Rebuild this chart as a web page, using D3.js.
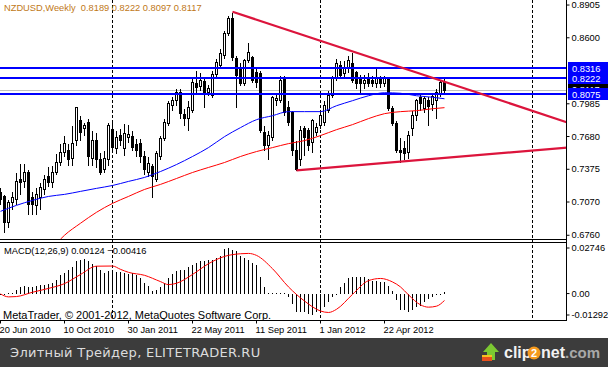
<!DOCTYPE html>
<html>
<head>
<meta charset="utf-8">
<script src="https://cdn.jsdelivr.net/npm/d3@7"></script>
<style>
  html, body { margin: 0; padding: 0; background: #ffffff; }
  svg { display: block; }
  text { font-family: "Liberation Sans", Arial, sans-serif; }
</style>
</head>
<body>
<div id="chart"></div>
<script>
// NZDUSD weekly, bar 0 = week of 20 Jun 2010
const open = [
  .7159,.7122,.6881,.7067,.7094,.7280,.7262,.7345,.7113,.7039,
  .7113,.7187,.7308,.7252,.7354,.7447,.7540,.7559,.7484,.7652,
  .7837,.7763,.7819,.7484,.7652,.7466,.7373,.7466,.7754,.7577,
  .7698,.7577,.7679,.7689,.7614,.7624,.7494,.7354,.7401,.7280,
  .7494,.7670,.7809,.7976,.8023,.8097,.7893,.7856,.7930,.8181,
  .8153,.8199,.8097,.8069,.8264,.8348,.8441,.8645,.8784,.8413,
  .8329,.8181,.8394,.8422,.8283,.8274,.7726,.7605,.7679,.8023,
  .8023,.8227,.7958,.7912,.7559,.7466,.7763,.7744,.7633,.7726,
  .7791,.7819,.7930,.8069,.8227,.8348,.8274,.8329,.8366,.8283,
  .8227,.8181,.8237,.8209,.8181,.8227,.8181,.8218,.7949,.7809,
  .7559,.7577,.7540,.7763,.7884,.8051,.7949,.8023,.7986,.8023,
  .8088,.8189];
const high = [
  .7206,.7141,.7094,.7169,.7354,.7438,.7438,.7373,.7169,.7206,
  .7252,.7327,.7401,.7419,.7531,.7624,.7698,.7624,.7791,.7967,
  .7884,.7819,.7856,.7744,.7726,.7540,.7559,.7819,.7819,.7744,
  .7763,.7809,.7800,.7744,.7670,.7670,.7559,.7494,.7438,.7559,
  .7698,.7856,.8023,.8060,.8134,.8134,.7949,.8023,.8227,.8301,
  .8283,.8227,.8171,.8301,.8413,.8506,.8673,.8812,.8843,.8441,
  .8376,.8413,.8562,.8441,.8320,.8301,.7791,.7744,.8069,.8088,
  .8255,.8255,.8023,.7930,.7652,.7791,.7791,.7772,.7856,.7819,
  .7930,.8023,.8116,.8255,.8413,.8394,.8394,.8441,.8469,.8301,
  .8264,.8264,.8283,.8255,.8320,.8255,.8255,.8237,.7976,.7837,
  .7679,.7652,.7744,.7930,.8041,.8088,.8069,.8060,.8079,.8134,
  .8209,.8222];
const low = [
  .7048,.6788,.6834,.7002,.7048,.7141,.7206,.6955,.6955,.6955,
  .7002,.7141,.7215,.7206,.7327,.7419,.7503,.7419,.7419,.7605,
  .7652,.7698,.7419,.7419,.7392,.7327,.7354,.7419,.7559,.7531,
  .7605,.7512,.7633,.7559,.7494,.7447,.7327,.7308,.7113,.7262,
  .7466,.7652,.7791,.7930,.7976,.7856,.7791,.7744,.7912,.8088,
  .8116,.7958,.8069,.8051,.8237,.8329,.8413,.8626,.8394,.7958,
  .8162,.8162,.8376,.8190,.8144,.7726,.7559,.7466,.7652,.7976,
  .8004,.7884,.7791,.7512,.7364,.7419,.7512,.7559,.7540,.7698,
  .7763,.7791,.7912,.8051,.8209,.8227,.8227,.8283,.8190,.8134,
  .8088,.8134,.8153,.8153,.8144,.8144,.8153,.7930,.7791,.7540,
  .7447,.7466,.7484,.7698,.7837,.7930,.7912,.7791,.7930,.7856,
  .8060,.8097];
const close = [
  .7094,.6881,.7067,.7113,.7262,.7252,.7345,.7048,.7048,.7141,
  .7206,.7280,.7252,.7354,.7447,.7540,.7624,.7466,.7624,.7958,
  .7726,.7791,.7494,.7652,.7466,.7354,.7484,.7791,.7587,.7679,
  .7652,.7717,.7707,.7587,.7559,.7494,.7373,.7429,.7308,.7531,
  .7670,.7819,.7995,.8023,.8097,.7902,.7856,.7958,.8190,.8144,
  .8209,.8088,.8134,.8264,.8376,.8459,.8645,.8784,.8422,.8255,
  .8181,.8394,.8469,.8209,.8190,.7744,.7605,.7698,.8051,.8041,
  .8209,.7912,.7819,.7559,.7373,.7744,.7679,.7605,.7837,.7772,
  .7884,.7976,.8069,.8237,.8366,.8255,.8329,.8394,.8209,.8181,
  .8181,.8209,.8181,.8181,.8227,.8181,.8227,.7949,.7809,.7559,
  .7540,.7531,.7698,.7884,.8023,.7995,.8041,.7967,.8060,.8097,
  .8190,.8117];

// moving averages, read every few bars
const blueMaBars = [0,4,8,12,16,20,24,28,32,36,40,44,48,52,56,60,64,68,72,76,80,84,88,92,96,100,104,108,111];
const blueMa = [.6983,.7039,.7085,.7122,.7141,.7169,.7197,.7224,.7262,.7299,.7354,.7419,.7494,.7577,.7679,.7763,.7837,.7874,.7912,.7912,.7912,.7967,.8014,.8060,.8088,.8083,.8060,.8046,.8032];
const redMaBars = [14,16,20,24,28,32,36,40,44,48,52,56,60,64,68,72,76,80,84,88,92,96,100,104,108,111];
const redMa = [.6686,.6760,.6872,.6974,.7057,.7122,.7187,.7234,.7289,.7345,.7392,.7438,.7494,.7540,.7577,.7614,.7642,.7689,.7744,.7791,.7847,.7893,.7912,.7921,.7939,.7949];

// MACD(12,26,9) main value per bar
const macd = [
  -.0006,-.0006,.0003,.0006,.0020,.0041,.0045,.0041,.0041,.0045,
  .0051,.0051,.0057,.0061,.0081,.0112,.0122,.0143,.0163,.0194,
  .0204,.0208,.0194,.0179,.0167,.0143,.0122,.0133,.0133,.0127,
  .0127,.0122,.0118,.0122,.0112,.0092,.0065,.0045,.0017,.0024,
  .0041,.0061,.0092,.0118,.0133,.0143,.0143,.0163,.0173,.0184,
  .0194,.0194,.0200,.0204,.0214,.0228,.0269,.02746,.0261,.0255,
  .0225,.0214,.0200,.0184,.0173,.0102,.0037,.0001,.0000,.0001,
  .0001,.0001,-.0020,-.0061,-.0112,-.0112,-.0112,-.0125,-.01292,-.0112,
  -.0102,-.0081,-.0051,-.0020,-.0004,.0041,.0065,.0092,.0098,.0098,
  .0098,.0098,.0086,.0078,.0078,.0072,.0072,.0045,.0017,-.0040,
  -.0102,-.0102,-.0112,-.0102,-.0081,-.0072,-.0051,-.0031,-.0020,-.0010,
  -.0002,.00124];
const signalBars = [0,2,4,8,12,16,20,24,28,30,32,36,40,42,44,48,52,56,60,62,64,68,72,76,80,82,84,88,92,95,98,100,102,105,107,109,111];
const signal = [-.0002,-.0020,-.0018,.0008,.0031,.0060,.0115,.0165,.0166,.0146,.0128,.0110,.0072,.0054,.0062,.0115,.0180,.0224,.0240,.0242,.0230,.0150,.0040,-.0045,-.0105,-.0114,-.0095,-.0005,.0078,.0091,.0070,.0040,-.0008,-.0068,-.0082,-.0076,-.00416];

// chart objects
const levelLines = [0.8316, 0.8222, 0.8075];
const bid = 0.8117;
const trendUpper = [[58, 0.8843], [111, 0.8190]];
const trendLower = [[74, 0.7364], [100, 0.7446]];
const yearSeparators = [28, 80, 133];

// axis labels
const priceTicks = [0.8905, 0.8600, 0.7985, 0.7680, 0.7375, 0.7070, 0.6760];
const macdTicks = [0.02746, 0, -0.01292];
const macdTickLabels = ["0.02746", "0.00", "-0.01292"];
const dateBars = [0, 16, 32, 48, 64, 80, 96];
const dateLabels = ["20 Jun 2010", "10 Oct 2010", "30 Jan 2011", "22 May 2011", "11 Sep 2011", "1 Jan 2012", "22 Apr 2012"];

const W = 608, H = 367;
const plotRight = 567;
const mainBottom = 239, macdTop = 242, macdBottom = 320;
const n = close.length;
const fmt4 = d3.format(".4f"), fmt5 = d3.format(".5f");

const svg = d3.select("#chart").append("svg")
  .attr("width", W)
  .attr("height", H);

svg.append("rect").attr("width", W).attr("height", H).attr("fill", "#ffffff");

// 4 px per weekly bar
const x = d3.scaleLinear().domain([0, 1]).range([0.5, 4.5]);
const y = d3.scaleLinear().domain([0.6716, 0.8952]).range([240, 0]);
const yM = d3.scaleLinear().domain([-0.01292, 0.02746]).range([315, 248]);
const px = v => Math.round(v) + 0.5;

const defs = svg.append("defs");
defs.append("clipPath").attr("id", "clipMain")
  .append("rect").attr("x", 0).attr("y", 0).attr("width", plotRight).attr("height", mainBottom);
defs.append("clipPath").attr("id", "clipMacd")
  .append("rect").attr("x", 0).attr("y", macdTop + 1).attr("width", plotRight).attr("height", macdBottom - macdTop - 1);

// year separators
svg.append("g").selectAll("line")
  .data(yearSeparators)
  .join("line")
  .attr("x1", d => x(d)).attr("x2", d => x(d))
  .attr("y1", 0).attr("y2", macdBottom)
  .attr("stroke", "#000")
  .attr("stroke-dasharray", "3,2")
  .attr("shape-rendering", "crispEdges");

const main = svg.append("g").attr("clip-path", "url(#clipMain)");

// bid line
main.append("line")
  .attr("x1", 0).attr("x2", plotRight)
  .attr("y1", px(y(bid))).attr("y2", px(y(bid)))
  .attr("stroke", "#c0c0c0")
  .attr("shape-rendering", "crispEdges");

const bars = d3.range(n);

// wicks
main.append("g").selectAll("line")
  .data(bars)
  .join("line")
  .attr("x1", i => x(i)).attr("x2", i => x(i))
  .attr("y1", i => px(y(high[i]))).attr("y2", i => px(y(low[i])))
  .attr("stroke", "#000")
  .attr("shape-rendering", "crispEdges");

// bodies
main.append("g").selectAll("rect")
  .data(bars)
  .join("rect")
  .attr("x", i => x(i) - 1)
  .attr("width", 2)
  .attr("y", i => px(y(Math.max(open[i], close[i]))))
  .attr("height", i => Math.max(1, px(y(Math.min(open[i], close[i]))) - px(y(Math.max(open[i], close[i])))))
  .attr("fill", i => close[i] >= open[i] ? "#ffffff" : "#000000")
  .attr("stroke", "#000")
  .attr("shape-rendering", "crispEdges");

// moving averages
const maLine = d3.line().x(d => x(d[0])).y(d => y(d[1])).curve(d3.curveMonotoneX);
main.append("path")
  .attr("d", maLine(d3.zip(redMaBars, redMa)))
  .attr("fill", "none").attr("stroke", "#ff0000").attr("stroke-width", 1);
main.append("path")
  .attr("d", maLine(d3.zip(blueMaBars, blueMa)))
  .attr("fill", "none").attr("stroke", "#0000ff").attr("stroke-width", 1);

// horizontal levels
main.append("g").selectAll("line")
  .data(levelLines)
  .join("line")
  .attr("x1", 0).attr("x2", plotRight)
  .attr("y1", d => Math.round(y(d))).attr("y2", d => Math.round(y(d)))
  .attr("stroke", "#0000ff")
  .attr("stroke-width", 2)
  .attr("shape-rendering", "crispEdges");

// trend lines, extended to the right edge
const lastBar = x.invert(plotRight + 2);
[trendUpper, trendLower].forEach(t => {
  const slope = (t[1][1] - t[0][1]) / (t[1][0] - t[0][0]);
  const endPrice = t[0][1] + slope * (lastBar - t[0][0]);
  main.append("line")
    .attr("x1", x(t[0][0])).attr("y1", y(t[0][1]))
    .attr("x2", x(lastBar)).attr("y2", y(endPrice))
    .attr("stroke", "#dc143c")
    .attr("stroke-width", 2.2);
});

// MACD histogram
const macdG = svg.append("g").attr("clip-path", "url(#clipMacd)");
const zeroY = Math.round(yM(0));
macdG.append("g").selectAll("line")
  .data(bars)
  .join("line")
  .attr("x1", i => x(i)).attr("x2", i => x(i))
  .attr("y1", zeroY)
  .attr("y2", i => {
    const v = Math.round(yM(macd[i]));
    if (v === zeroY) return macd[i] >= 0 ? zeroY - 1 : zeroY + 1;
    return v;
  })
  .attr("stroke", "#000")
  .attr("shape-rendering", "crispEdges");

macdG.append("path")
  .attr("d", d3.line().x(d => x(d[0])).y(d => yM(d[1])).curve(d3.curveMonotoneX)(d3.zip(signalBars, signal)))
  .attr("fill", "none").attr("stroke", "#ff0000").attr("stroke-width", 1);

// window borders
const borders = svg.append("g").attr("stroke", "#000").attr("shape-rendering", "crispEdges");
borders.append("line").attr("x1", plotRight - 0.5).attr("x2", plotRight - 0.5).attr("y1", 0).attr("y2", macdBottom + 0.5);
[mainBottom, macdTop, macdBottom].forEach(v => {
  borders.append("line").attr("x1", 0).attr("x2", plotRight).attr("y1", v + 0.5).attr("y2", v + 0.5);
});

// price axis
const priceAxis = svg.append("g")
  .attr("transform", `translate(${plotRight - 0.5},0)`)
  .call(d3.axisRight(y).tickValues(priceTicks).tickFormat(fmt4).tickSize(3).offset(0));
priceAxis.select(".domain").remove();
priceAxis.selectAll("text").attr("x", 5).style("font-size", "9.3px").attr("fill", "#000").style("font-family", "'Liberation Sans', Arial, sans-serif");

// label boxes: bid label only shows in the gap between the level boxes
const boxH = 12;
const levelY = levelLines.map(v => Math.round(y(v)));
const gapTop = Math.min(...levelY.filter(v => v < y(bid))) + boxH / 2;
const gapBottom = Math.max(...levelY.filter(v => v > y(bid))) - boxH / 2;
defs.append("clipPath").attr("id", "clipBid")
  .append("rect").attr("x", plotRight).attr("y", gapTop).attr("width", W - plotRight).attr("height", Math.max(0, gapBottom - gapTop));

const boxes = svg.append("g");
const bidBox = boxes.append("g").attr("clip-path", "url(#clipBid)");
bidBox.append("rect")
  .attr("x", plotRight + 1).attr("y", Math.round(y(bid)) - boxH / 2)
  .attr("width", W - plotRight).attr("height", boxH)
  .attr("fill", "#000000");
bidBox.append("text")
  .attr("x", plotRight + 5).attr("y", y(bid) + 3.5)
  .attr("fill", "#ffffff")
  .style("font-size", "9.3px")
  .text(fmt4(bid));

levelLines.forEach(v => {
  const cy = y(v);
  boxes.append("rect")
    .attr("x", plotRight + 1).attr("y", Math.round(cy) - boxH / 2)
    .attr("width", W - plotRight).attr("height", boxH)
    .attr("fill", "#0000ff");
  boxes.append("text")
    .attr("x", plotRight + 5).attr("y", cy + 3.5)
    .attr("fill", "#ffffff")
    .style("font-size", "9.3px")
    .text(fmt4(v));
});

// MACD axis
const macdAxis = svg.append("g")
  .attr("transform", `translate(${plotRight - 0.5},0)`)
  .call(d3.axisRight(yM).tickValues(macdTicks).tickFormat((d, i) => macdTickLabels[i]).tickSize(3).offset(0));
macdAxis.select(".domain").remove();
macdAxis.selectAll("text").attr("x", 5).style("font-size", "9.3px").attr("fill", "#000").style("font-family", "'Liberation Sans', Arial, sans-serif");

// time axis
const timeAxis = svg.append("g")
  .attr("transform", `translate(0,${macdBottom + 0.5})`)
  .call(d3.axisBottom(x).tickValues(dateBars).tickFormat((d, i) => dateLabels[i]).tickSize(3).offset(0));
timeAxis.select(".domain").remove();
timeAxis.selectAll("text")
  .attr("x", -1).attr("y", 6)
  .attr("text-anchor", "start")
  .attr("fill", "#000")
  .style("font-size", "9.3px")
  .style("font-family", "'Liberation Sans', Arial, sans-serif");

// titles
svg.append("text")
  .attr("x", 4).attr("y", 11)
  .attr("fill", "#c07818")
  .style("font-size", "9.3px")
  .style("white-space", "pre")
  .text(`NZDUSD,Weekly  ${fmt4(open[n - 1])} ${fmt4(high[n - 1])} ${fmt4(low[n - 1])} ${fmt4(close[n - 1])}`);

svg.append("text")
  .attr("x", 4).attr("y", 254)
  .attr("fill", "#000")
  .style("font-size", "9.3px")
  .text(`MACD(12,26,9) ${fmt5(macd[n - 1])} ${fmt5(signal[signal.length - 1])}`);

svg.append("text")
  .attr("x", 3).attr("y", 319)
  .attr("fill", "#000")
  .style("font-size", "11px")
  .text("MetaTrader, © 2001-2012, MetaQuotes Software Corp.");

// footer bar
const foot = svg.append("g");
foot.append("rect").attr("x", 0).attr("y", 338).attr("width", W).attr("height", H - 338).attr("fill", "#3c3c3c");
foot.append("text")
  .attr("x", 10).attr("y", 357)
  .attr("fill", "#dcdcdc")
  .style("font-family", "'DejaVu Sans', sans-serif")
  .style("font-size", "13px")
  .style("letter-spacing", "0.3px")
  .text("Элитный Трейдер, ELITETRADER.RU");

// clip2net logo
foot.append("path").attr("d", "M483,352 L491,343 L499,352 L495,352 L495,360 L487,360 L487,352 Z").attr("fill", "#7cc832");
foot.append("rect").attr("x", 482).attr("y", 355).attr("width", 10).attr("height", 6).attr("fill", "#e8501c");
foot.append("rect").attr("x", 482).attr("y", 355).attr("width", 10).attr("height", 2).attr("fill", "#f5c020");
foot.append("text").attr("x", 504).attr("y", 358).attr("fill", "#f2f2f2")
  .style("font-size", "16px").style("font-weight", "bold").text("clip");
foot.append("circle").attr("cx", 534).attr("cy", 353).attr("r", 6.5).attr("fill", "#f59a1e");
foot.append("text").attr("x", 534).attr("y", 357).attr("text-anchor", "middle").attr("fill", "#ffffff")
  .style("font-size", "11px").style("font-weight", "bold").text("2");
foot.append("text").attr("x", 541).attr("y", 358).attr("fill", "#f2f2f2")
  .style("font-size", "16px").style("font-weight", "bold").text("net");
foot.append("text").attr("x", 565).attr("y", 358).attr("fill", "#a8a8a8")
  .style("font-size", "15px").style("font-weight", "bold").text(".com");
</script>
</body>
</html>
